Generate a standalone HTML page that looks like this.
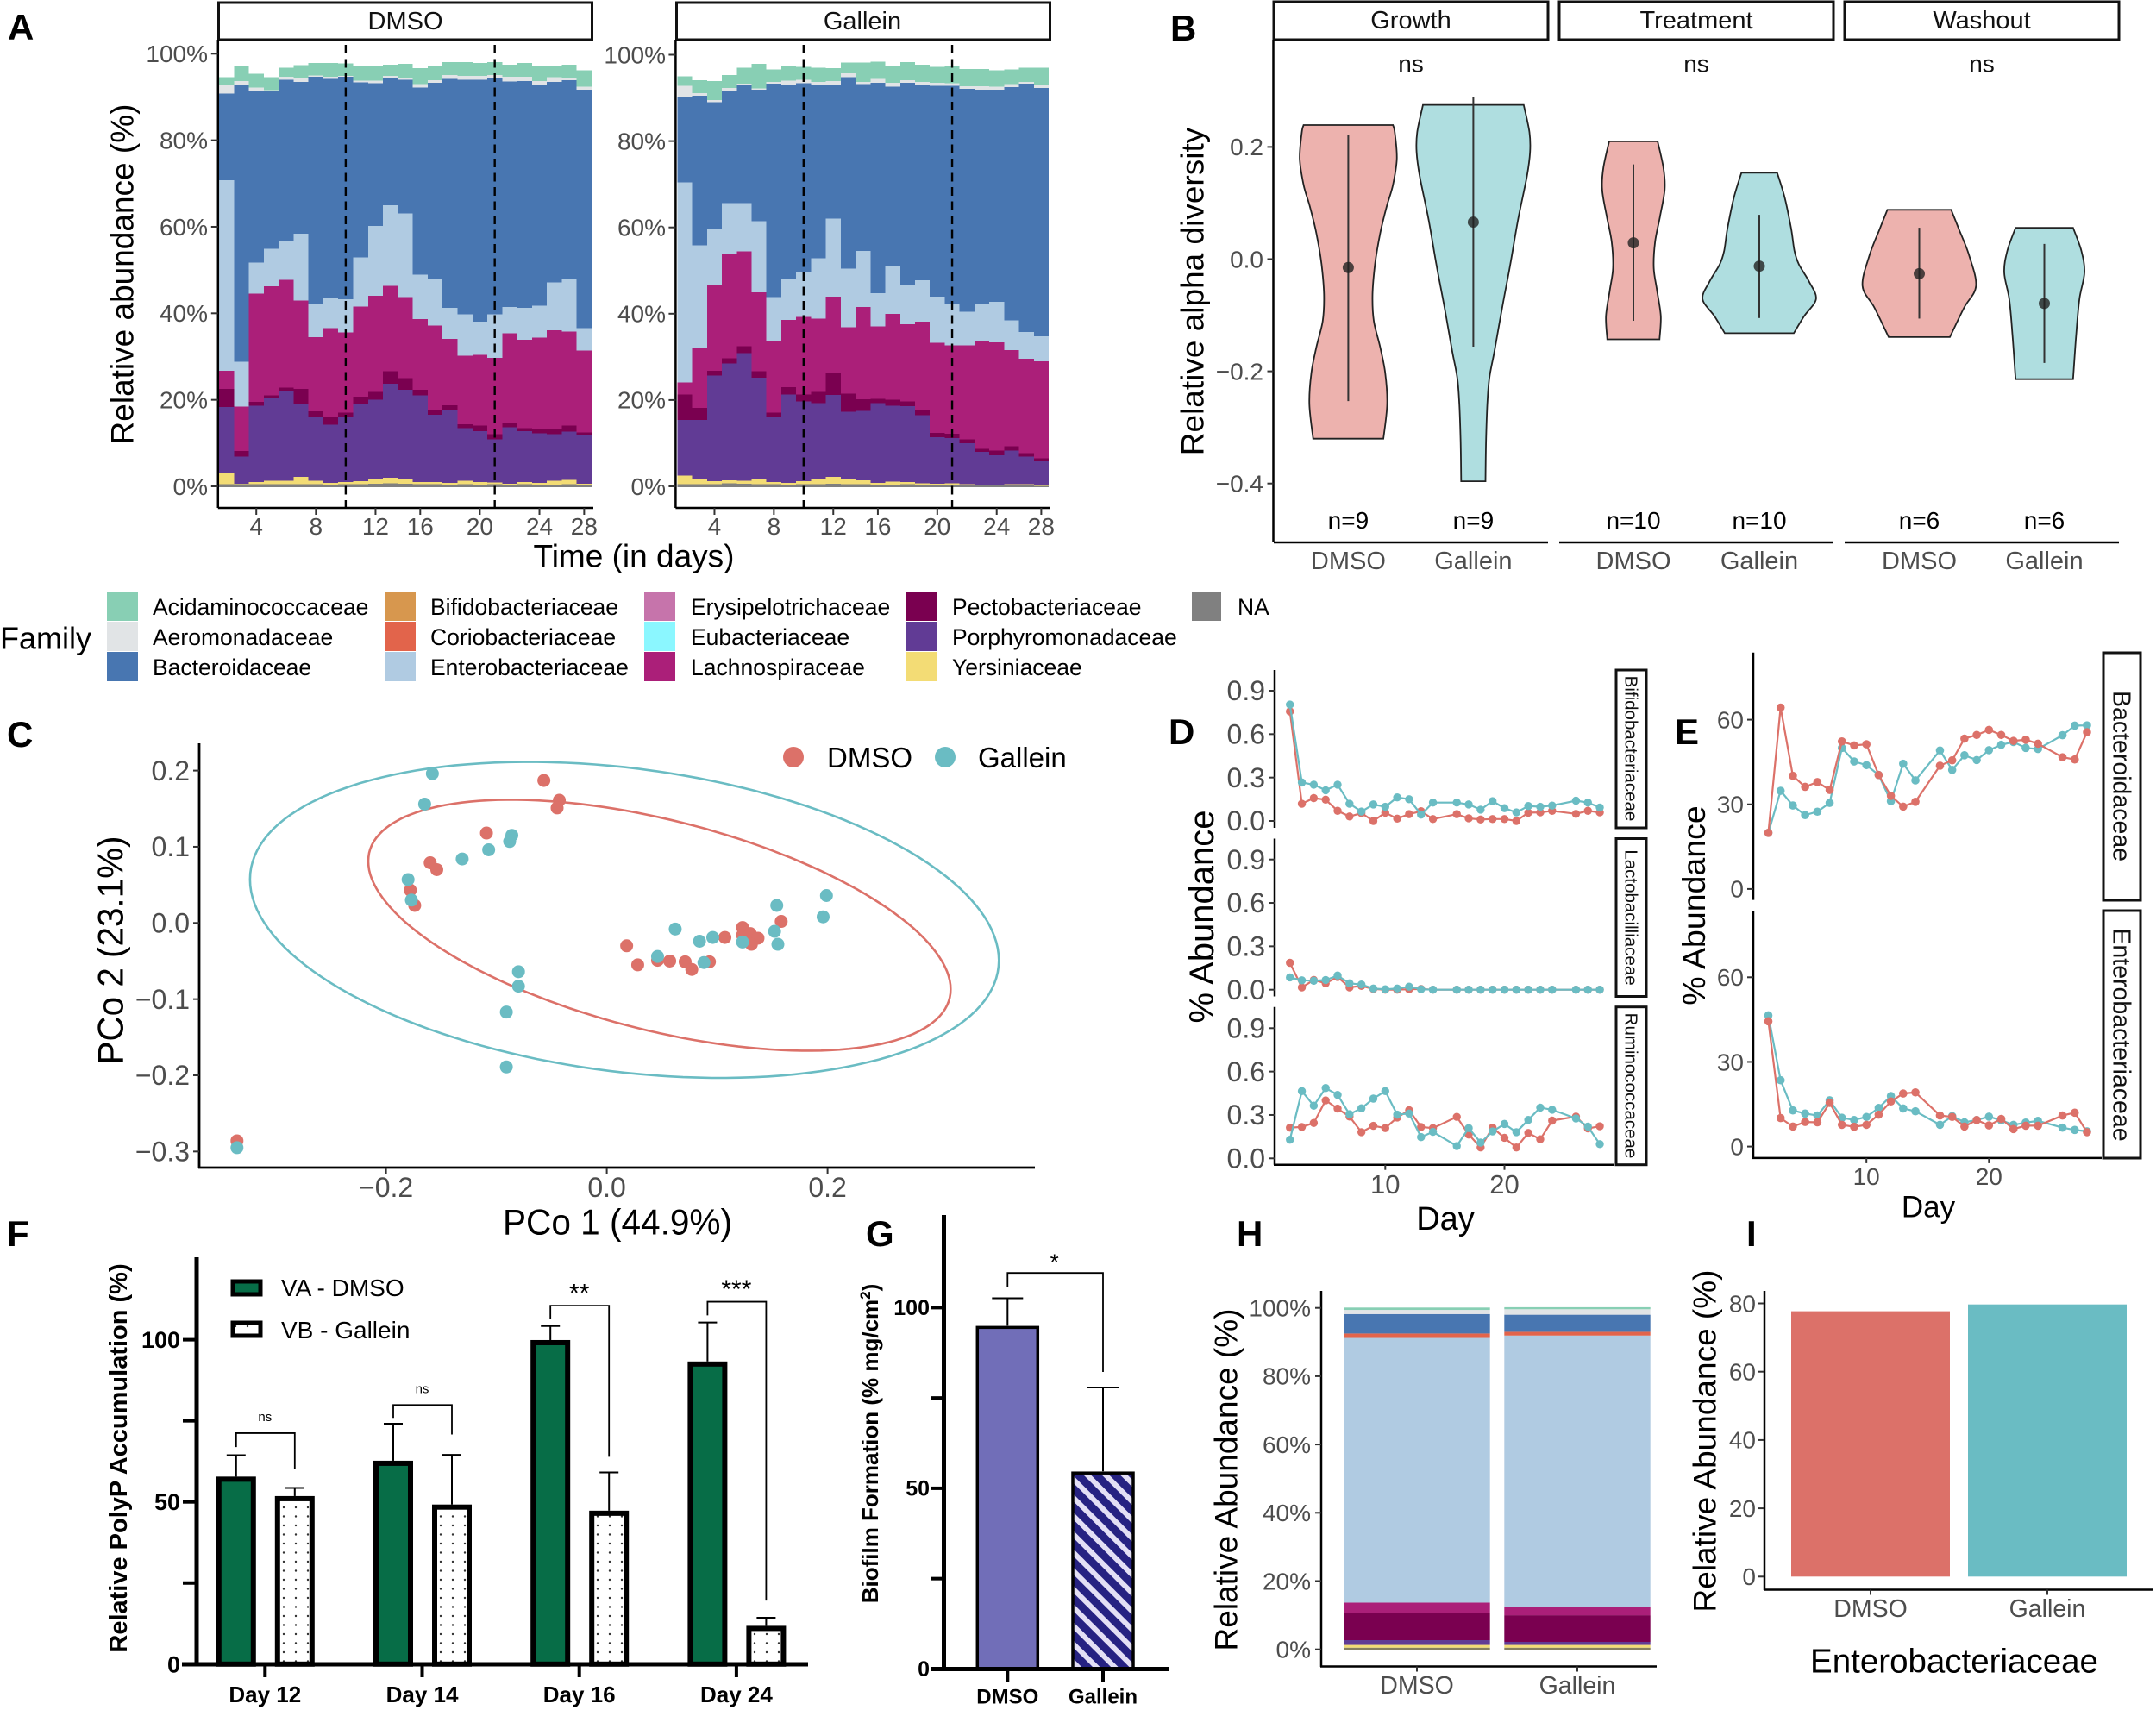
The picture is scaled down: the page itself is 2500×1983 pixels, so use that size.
<!DOCTYPE html>
<html lang="en">
<head>
<meta charset="utf-8">
<title>Microbiome composition figure</title>
<style>
html,body{margin:0;padding:0;background:#fff;}
svg{display:block;font-family:"Liberation Sans",sans-serif;}
.strip{fill:#fff;stroke:#111;stroke-width:3;}
.letter{font-size:42px;font-weight:bold;fill:#000;}
.title{fill:#000;text-anchor:middle;dominant-baseline:central;}
.strip-text{fill:#111;text-anchor:middle;dominant-baseline:central;}
.legend-text{font-size:26.5px;fill:#000;dominant-baseline:central;}
</style>
</head>
<body>
<svg id="figure" xmlns="http://www.w3.org/2000/svg" width="2500" height="1983" viewBox="0 0 2500 1983">
<defs>
<pattern id="dots" patternUnits="userSpaceOnUse" width="14" height="10.5"><rect width="14" height="10.5" fill="#fff"/><circle cx="7" cy="5" r="1.2" fill="#333"/></pattern>
<pattern id="stripes" patternUnits="userSpaceOnUse" width="15" height="15" patternTransform="rotate(-45)"><rect width="15" height="15" fill="#e3dff5"/><rect width="9" height="15" fill="#262282"/></pattern>
</defs>
<rect width="2500" height="1983" fill="#fff"/>

<g id="panel-a">
<text class="letter" x="9" y="46">A</text>
<rect class="strip" x="253.5" y="3" width="433" height="43"/>
<text class="strip-text" x="470" y="25" font-size="29">DMSO</text>
<rect class="strip" x="784.5" y="3" width="433" height="43"/>
<text class="strip-text" x="1000" y="25" font-size="29">Gallein</text>
<text class="title" font-size="37" transform="translate(142,318) rotate(-90)">Relative abundance (%)</text>
<text class="title" font-size="37" x="735" y="645">Time (in days)</text>
</g>

<g id="panel-b">
<text class="letter" x="1357" y="47">B</text>
<rect class="strip" x="1477" y="2" width="318" height="44"/>
<text class="strip-text" x="1636" y="24" font-size="29">Growth</text>
<rect class="strip" x="1808" y="2" width="318" height="44"/>
<text class="strip-text" x="1967" y="24" font-size="29">Treatment</text>
<rect class="strip" x="2139" y="2" width="318" height="44"/>
<text class="strip-text" x="2298" y="24" font-size="29">Washout</text>
<text class="title" font-size="37" transform="translate(1383,338) rotate(-90)">Relative alpha diversity</text>
<text class="strip-text" x="1636" y="74" font-size="28">ns</text>
<text class="strip-text" x="1967" y="74" font-size="28">ns</text>
<text class="strip-text" x="2298" y="74" font-size="28">ns</text>
</g>

<g id="legend-family">
<text class="title" font-size="36" x="53" y="740">Family</text>
<rect x="124" y="686" width="36" height="34" fill="#88cfb4"/>
<text class="legend-text" x="177" y="704">Acidaminococcaceae</text>
<rect x="124" y="721" width="36" height="34" fill="#e1e4e6"/>
<text class="legend-text" x="177" y="739">Aeromonadaceae</text>
<rect x="124" y="756" width="36" height="34" fill="#4876b1"/>
<text class="legend-text" x="177" y="774">Bacteroidaceae</text>
<rect x="446" y="686" width="36" height="34" fill="#d7974e"/>
<text class="legend-text" x="499" y="704">Bifidobacteriaceae</text>
<rect x="446" y="721" width="36" height="34" fill="#e2644b"/>
<text class="legend-text" x="499" y="739">Coriobacteriaceae</text>
<rect x="446" y="756" width="36" height="34" fill="#b0cbe2"/>
<text class="legend-text" x="499" y="774">Enterobacteriaceae</text>
<rect x="747" y="686" width="36" height="34" fill="#c674ab"/>
<text class="legend-text" x="801" y="704">Erysipelotrichaceae</text>
<rect x="747" y="721" width="36" height="34" fill="#8bf7ff"/>
<text class="legend-text" x="801" y="739">Eubacteriaceae</text>
<rect x="747" y="756" width="36" height="34" fill="#ab1f79"/>
<text class="legend-text" x="801" y="774">Lachnospiraceae</text>
<rect x="1050" y="686" width="36" height="34" fill="#7a0050"/>
<text class="legend-text" x="1104" y="704">Pectobacteriaceae</text>
<rect x="1050" y="721" width="36" height="34" fill="#613b95"/>
<text class="legend-text" x="1104" y="739">Porphyromonadaceae</text>
<rect x="1050" y="756" width="36" height="34" fill="#f3dc75"/>
<text class="legend-text" x="1104" y="774">Yersiniaceae</text>
<rect x="1382" y="686" width="34" height="34" fill="#808080"/>
<text class="legend-text" x="1435" y="704">NA</text>
</g>

<g id="panel-c">
<text class="letter" x="8" y="866">C</text>
<text class="title" font-size="42" transform="translate(128,1102) rotate(-90)" textLength="265" lengthAdjust="spacingAndGlyphs">PCo 2 (23.1%)</text>
<text class="title" font-size="42" x="716" y="1417" textLength="266" lengthAdjust="spacingAndGlyphs">PCo 1 (44.9%)</text>
<circle cx="920" cy="878" r="12" fill="#dc7169"/>
<text x="959" y="890" font-size="33" fill="#000">DMSO</text>
<circle cx="1096" cy="878" r="12" fill="#6abcc3"/>
<text x="1134" y="890" font-size="33" fill="#000">Gallein</text>
</g>

<g id="panel-d">
<text class="letter" x="1355" y="863">D</text>
<text class="title" font-size="40" transform="translate(1394,1063) rotate(-90)">% Abundance</text>
<text class="title" font-size="38" x="1676" y="1414">Day</text>
<rect class="strip" x="1874" y="777" width="35" height="183"/>
<text class="strip-text" font-size="20.5" transform="translate(1891,868) rotate(90)">Bifidobacteriaceae</text>
<rect class="strip" x="1874" y="972.5" width="35" height="183"/>
<text class="strip-text" font-size="20.5" transform="translate(1891,1064) rotate(90)">Lactobacilliaceae</text>
<rect class="strip" x="1874" y="1167.7" width="35" height="183"/>
<text class="strip-text" font-size="20.5" transform="translate(1891,1259) rotate(90)">Ruminococcaceae</text>
</g>

<g id="panel-e">
<text class="letter" x="1942" y="863">E</text>
<text class="title" font-size="37.5" transform="translate(1964,1050) rotate(-90)">% Abundance</text>
<text class="title" font-size="35" x="2236" y="1400">Day</text>
<rect class="strip" x="2439" y="757" width="43" height="287"/>
<text class="strip-text" font-size="28.5" transform="translate(2459.5,900) rotate(90)">Bacteroidaceae</text>
<rect class="strip" x="2439" y="1056" width="43" height="287"/>
<text class="strip-text" font-size="28.5" transform="translate(2459.5,1200) rotate(90)">Enterobacteriaceae</text>
</g>

<g id="panel-f">
<text class="letter" x="8" y="1445">F</text>
<text class="title" font-size="29" font-weight="bold" transform="translate(138,1691) rotate(-90)">Relative PolyP Accumulation (%)</text>
<rect x="270" y="1486" width="32" height="15" fill="#076d47" stroke="#000" stroke-width="5"/>
<text x="326" y="1503" font-size="28" fill="#000">VA - DMSO</text>
<rect x="270" y="1534" width="32" height="15" fill="url(#dots)" stroke="#000" stroke-width="5"/>
<text x="326" y="1552" font-size="28" fill="#000">VB - Gallein</text>
</g>

<g id="panel-g">
<text class="letter" x="1004" y="1445">G</text>
<text font-size="26" font-weight="bold" fill="#000" text-anchor="middle" transform="translate(1018,1674) rotate(-90)">Biofilm Formation (% mg/cm<tspan font-size="17" dy="-9">2</tspan><tspan dy="9">)</tspan></text>
</g>

<g id="panel-h">
<text class="letter" x="1434" y="1445">H</text>
<text class="title" font-size="37" transform="translate(1422,1716) rotate(-90)">Relative Abundance (%)</text>
</g>

<g id="panel-i">
<text class="letter" x="2025" y="1445">I</text>
<text class="title" font-size="37" transform="translate(1977,1671) rotate(-90)">Relative Abundance (%)</text>
<text class="title" font-size="38.5" x="2266" y="1927">Enterobacteriaceae</text>
</g>
</svg>

<script>
/* ---------- shared categories ---------- */
const days = [2,3,4,5,6,7,8,9,10,11,12,13,14,16,17,18,19,20,21,22,23,24,26,27,28];

/* ---------- panel A: cumulative top of each family (%) per day ---------- */
const aDayTicks = [4,8,12,16,20,24,28];
const aPercentTicks = [0,20,40,60,80,100];
const aTreatmentDays = [10,21];

const dmsoTopNA = [0.5,0.5,0.5,0.5,0.5,0.5,0.5,0.4,0.5,0.5,0.6,0.7,0.6,0.5,0.5,0.4,0.5,0.4,0.5,0.3,0.5,0.3,0.4,0.5,0.3];
const dmsoTopYersiniaceae = [3.0,0.55,1.0,1.25,1.25,2.2,1.25,0.75,1.0,1.2,1.65,2.0,1.7,1.0,1.0,0.75,1.25,1.0,0.9,0.6,1.0,0.75,1.25,1.45,0.55];
const dmsoTopPorphyromonadaceae = [18.3,6.9,18.6,20.4,21.9,18.9,16.1,14.3,15.9,18.9,20.0,23.7,22.3,21.0,16.5,17.6,13.5,12.8,10.9,13.7,12.8,12.3,12.1,12.7,12.0];
const dmsoTopPectobacteriaceae = [22.5,8.2,19.5,21.0,22.8,22.5,17.3,15.9,17.0,20.7,21.8,26.6,25.0,22.3,17.7,18.7,14.4,14.1,12.1,14.7,13.5,13.2,13.4,14.1,12.5];
const dmsoTopLachnospiraceae = [26.7,18.4,44.5,46.2,47.7,43.0,34.5,36.6,35.6,41.6,44.1,46.3,43.8,38.7,37.2,34.1,30.2,30.4,29.7,35.4,33.9,34.4,36.1,35.8,31.4];
const dmsoTopEnterobacteriaceae = [70.8,28.8,51.7,54.9,56.6,58.4,42.2,43.7,43.3,52.9,60.2,65.0,63.1,48.9,47.8,41.3,39.8,38.1,39.8,41.5,41.3,41.8,47.1,47.8,36.6];
const dmsoTopBacteroidaceae = [90.8,92.7,91.5,91.3,94.0,93.5,94.7,94.2,94.7,93.4,93.2,94.4,94.0,92.2,93.3,94.2,94.0,94.0,94.5,93.6,93.7,92.9,93.5,93.9,91.7];
const dmsoTopAeromonadaceae = [92.7,93.7,92.2,91.6,94.7,94.5,95.0,94.7,94.9,93.8,93.8,94.9,94.5,93.0,93.9,95.1,94.9,94.9,95.1,94.7,94.7,93.7,94.6,94.3,92.4];
const dmsoTopAcidaminococcaceae = [94.6,97.1,95.4,94.6,96.8,97.4,97.9,97.9,97.8,97.1,97.1,97.5,97.7,96.7,97.1,98.1,98.1,97.9,98.1,97.5,97.9,97.1,97.2,97.5,96.2];

const galleinTopNA = [0.5,0.5,0.5,0.7,0.6,0.5,0.5,0.4,0.5,0.5,0.6,0.5,0.5,0.4,0.4,0.5,0.3,0.3,0.3,0.2,0.2,0.2,0.4,0.2,0.1];
const galleinTopYersiniaceae = [2.5,1.6,1.2,1.4,1.3,1.6,1.0,0.8,1.2,1.7,2.2,1.6,1.4,0.75,1.1,1.0,0.7,0.55,0.7,0.5,0.4,0.4,0.5,0.5,0.3];
const galleinTopPorphyromonadaceae = [15.4,15.4,25.7,28.5,30.9,25.2,16.2,21.3,19.7,19.3,21.2,17.3,17.5,19.3,18.7,18.6,16.5,11.4,11.2,10.0,8.0,7.2,8.3,6.9,5.8];
const galleinTopPectobacteriaceae = [21.3,18.2,26.8,29.7,32.5,26.7,17.1,23.0,21.3,21.9,26.3,21.5,20.2,20.3,20.1,19.7,17.6,12.4,12.2,10.9,8.7,8.3,9.3,7.7,6.5];
const galleinTopLachnospiraceae = [24.1,32.0,46.7,53.9,54.4,45.0,33.6,38.6,39.3,38.9,44.0,36.9,41.6,37.1,40.0,37.6,38.2,33.3,32.7,32.7,33.8,33.4,31.6,29.6,29.0];
const galleinTopEnterobacteriaceae = [70.4,55.8,59.6,65.6,65.6,61.4,43.9,48.2,49.7,52.8,62.0,50.4,54.5,44.8,50.9,46.6,47.8,44.0,42.2,40.5,42.4,42.8,38.5,35.8,34.8];
const galleinTopBacteroidaceae = [90.2,90.5,89.0,91.7,93.1,91.9,93.3,93.1,93.4,93.1,93.1,94.8,93.2,93.5,92.6,93.5,93.1,92.8,92.8,92.1,91.9,91.9,92.5,93.3,92.3];
const galleinTopAeromonadaceae = [92.8,91.1,89.5,92.3,93.3,92.2,93.7,94.0,94.2,93.7,93.9,95.7,93.7,94.4,93.5,94.1,93.7,93.5,93.4,92.7,92.7,92.6,93.2,93.7,92.9];
const galleinTopAcidaminococcaceae = [95.0,94.1,93.9,95.3,97.0,97.9,96.6,97.4,97.2,97.0,96.9,98.2,98.2,98.4,97.5,98.3,97.7,97.2,97.4,96.7,96.7,96.4,96.6,97.0,97.0];

/* ---------- panel B: violin density profiles ---------- */
const bTicks = [-0.4,-0.2,0,0.2];
const bGroups = ['DMSO','Gallein','DMSO','Gallein','DMSO','Gallein'];
const bCounts = ['n=9','n=9','n=10','n=10','n=6','n=6'];
const growthDmsoLevels = [0.239,0.226,0.179,0.132,0.093,0.046,-0.009,-0.063,-0.110,-0.157,-0.204,-0.259,-0.320];
const growthDmsoDensity = [0.357,0.372,0.388,0.357,0.306,0.255,0.214,0.194,0.204,0.255,0.296,0.311,0.281];
const growthGalleinLevels = [0.275,0.226,0.191,0.148,0.070,-0.009,-0.087,-0.165,-0.212,-0.259,-0.321,-0.396];
const growthGalleinDensity = [0.403,0.449,0.454,0.429,0.357,0.296,0.230,0.168,0.128,0.112,0.102,0.097];
const treatmentDmsoLevels = [0.210,0.163,0.124,0.077,0.030,-0.016,-0.056,-0.102,-0.143];
const treatmentDmsoDensity = [0.194,0.240,0.250,0.214,0.173,0.163,0.189,0.219,0.209];
const treatmentGalleinLevels = [0.154,0.109,0.054,0.015,-0.009,-0.040,-0.071,-0.102,-0.132];
const treatmentGalleinDensity = [0.143,0.204,0.255,0.281,0.316,0.398,0.454,0.357,0.276];
const washoutDmsoLevels = [0.088,0.054,0.007,-0.048,-0.087,-0.139];
const washoutDmsoDensity = [0.255,0.316,0.398,0.454,0.357,0.245];
const washoutGalleinLevels = [0.056,0.015,-0.024,-0.071,-0.134,-0.214];
const washoutGalleinDensity = [0.230,0.296,0.321,0.281,0.255,0.230];
const bMeans = [-0.015,0.066,0.029,-0.0125,-0.026,-0.079];
const bLows = [-0.253,-0.156,-0.110,-0.105,-0.106,-0.185];
const bHighs = [0.222,0.289,0.169,0.079,0.056,0.027];

/* ---------- panel C: ordination ---------- */
const cXTicks = [-0.2,0,0.2];
const cYTicks = [-0.3,-0.2,-0.1,0,0.1,0.2];
const dmsoPco1 = [-0.057,-0.043,-0.045,-0.109,-0.160,-0.154,-0.178,-0.174,-0.335,0.018,0.028,0.046,0.057,0.071,0.077,0.093,0.107,0.123,0.123,0.130,0.137,0.131,0.158];
const dmsoPco2 = [0.187,0.161,0.151,0.118,0.079,0.070,0.043,0.023,-0.286,-0.030,-0.055,-0.049,-0.050,-0.051,-0.061,-0.051,-0.019,-0.006,-0.016,-0.014,-0.020,-0.028,0.002];
const galleinPco1 = [-0.158,-0.165,-0.086,-0.088,-0.107,-0.131,-0.180,-0.177,-0.080,-0.080,-0.091,-0.091,-0.335,0.046,0.062,0.084,0.096,0.088,0.123,0.152,0.155,0.154,0.196,0.199];
const galleinPco2 = [0.196,0.156,0.115,0.107,0.096,0.084,0.057,0.030,-0.064,-0.083,-0.117,-0.189,-0.295,-0.044,-0.008,-0.024,-0.019,-0.052,-0.025,-0.011,-0.028,0.023,0.008,0.036];
/* centre x, centre y, sd x, sd y, correlation */
const dmsoEllipse = [0.0477,-0.003,0.2638,0.1647,-0.51];
const galleinEllipse = [0.016,0.004,0.3392,0.2074,-0.256];

/* ---------- panel D ---------- */
const dYTicks = [0,0.3,0.6,0.9];
const dXTicks = [10,20];
const bifidoDmso = [0.757,0.119,0.158,0.147,0.07,0.031,0.054,0,0.057,0.016,0.047,0.067,0.013,0.047,0.018,0.01,0.013,0.013,0,0.057,0.059,0.07,0.049,0.07,0.059];
const bifidoGallein = [0.804,0.266,0.251,0.212,0.251,0.119,0.065,0.114,0.098,0.163,0.15,0.044,0.127,0.127,0.114,0.078,0.137,0.088,0.059,0.103,0.098,0.106,0.14,0.127,0.093];
const lactoDmso = [0.186,0.016,0.067,0.044,0.088,0.016,0.026,0.005,0,0,0.003,0.005,0,0,0,0,0,0,0,0,0,0,0,0,0];
const lactoGallein = [0.085,0.065,0.062,0.067,0.098,0.044,0.036,0.008,0.003,0.008,0.021,0.003,0,0,0,0,0,0,0,0,0,0,0,0,0];
const ruminoDmso = [0.212,0.217,0.245,0.401,0.344,0.289,0.181,0.225,0.209,0.282,0.333,0.217,0.209,0.287,0.165,0.075,0.212,0.142,0.075,0.176,0.132,0.261,0.289,0.207,0.222];
const ruminoGallein = [0.129,0.465,0.364,0.486,0.439,0.305,0.346,0.413,0.465,0.302,0.31,0.147,0.183,0.085,0.209,0.109,0.186,0.238,0.181,0.266,0.351,0.336,0.276,0.22,0.098];

/* ---------- panel E ---------- */
const eYTicks = [0,30,60];
const eXTicks = [10,20];
const bacteroDmso = [19.9,64.3,40.1,36.2,37.9,35.1,52.3,50.9,51.3,40.4,33,29.2,30.9,43.7,45.6,53.3,54.6,56.4,54.6,52.5,52.9,51.5,46.7,45.9,55.6];
const bacteroGallein = [19.9,34.8,29.6,26.2,27.4,30.5,50,45.2,43.9,40.4,31.1,44.4,38.5,49.1,42.2,47.4,45.7,49.2,51.1,52.1,50,49.6,54.5,57.9,58];
const enteroDmso = [44.4,10.1,7.1,8.7,8.6,15.5,7.7,7,7.7,11.3,16,18.8,19.2,11,10.5,7.1,9.4,7.5,9.8,6.2,7.4,7.4,11,12,5.1];
const enteroGallein = [46.5,23.5,12.8,11.7,11,16.4,10.2,9.4,10.5,13.7,17.9,13.5,12.5,7.7,10.8,8.6,9.4,10.6,9.3,7.7,8.5,9.1,6.7,5.9,5.4];

/* ---------- panel F ---------- */
const fDays = ['Day 12','Day 14','Day 16','Day 24'];
const fYTicks = [0,25,50,75,100];
const fDmso = [57.8,62.7,99.9,93.3];
const fDmsoErrTop = [64.4,74.1,104.2,105.3];
const fGallein = [51.8,49.2,47.3,11.8];
const fGalleinErrTop = [54.3,64.5,59.1,14.3];
const fSignificance = ['ns','ns','**','***'];
const fBracketTop = [71.2,79.9,110.5,111.7];
const fBracketLeftEnd = [66.9,75.9,106.3,107.5];
const fBracketRightEnd = [60.2,70.8,63.9,19.6];

/* ---------- panel G ---------- */
const gGroups = ['DMSO','Gallein'];
const gYTicks = [0,25,50,75,100];
const gValues = [95,54.7];
const gErrTop = [102.6,77.9];
const gBracketTop = 109.6;
const gBracketEnds = [105.6,82.2];

/* ---------- panel H: cumulative tops, NA up to Acidaminococcaceae ---------- */
const hGroups = ['DMSO','Gallein'];
const hTicks = [0,20,40,60,80,100];
const hDmsoTops = [0.5,1.3,2.7,10.7,13.7,91.2,92.5,98.2,99.4,100.1];
const hGalleinTops = [0.5,1.3,2.2,10.0,12.5,91.9,93.0,98.0,99.6,100.2];

/* ---------- panel I ---------- */
const iGroups = ['DMSO','Gallein'];
const iTicks = [0,20,40,60,80];
const iValues = [77.7,79.7];

/* ---------- helpers ---------- */
const NS = 'http://www.w3.org/2000/svg';
const INK = '#4d4d4d', RED = '#dc7169', TEAL = '#6abcc3';
function mk(tag, attrs, parent) {
  const el = document.createElementNS(NS, tag);
  for (const k in attrs) el.setAttribute(k, attrs[k]);
  parent.appendChild(el);
  return el;
}
function lin(d0, d1, r0, r1) { return v => r0 + (v - d0) * (r1 - r0) / (d1 - d0); }
function put(parent, x, y, str, fs, anchor, fill, bold) {
  const el = mk('text', {x: x, y: y + fs * 0.35, 'font-size': fs, 'text-anchor': anchor, fill: fill, 'font-weight': bold ? 'bold' : 'normal'}, parent);
  el.textContent = str;
  return el;
}
function leftAxis(parent, o) {
  const ax = mk('line', {x1: o.x, x2: o.x, y1: o.top, y2: o.bottom, stroke: '#000', 'stroke-width': o.sw}, parent);
  
  
  o.ticks.forEach(t => {
    const y = o.scale(t);
    const tick = mk('line', {x1: o.x - o.len, x2: o.x, y1: y, y2: y, stroke: o.tickColor || '#333', 'stroke-width': o.tsw}, parent);
    
    
    const s = o.fmt(t);
    if (s !== '') {
      const lab = put(parent, o.labelX, y, s, o.fs, 'end', o.fill || INK, o.bold);
      
      
    }
  });
}
function bottomAxis(parent, o) {
  const ax = mk('line', {x1: o.left, x2: o.right, y1: o.y, y2: o.y, stroke: '#000', 'stroke-width': o.sw}, parent);
  
  
  o.ticks.forEach((t, i) => {
    const x = o.scale(t, i);
    const tick = mk('line', {x1: x, x2: x, y1: o.y, y2: o.y + o.len, stroke: o.tickColor || '#333', 'stroke-width': o.tsw}, parent);
    
    
    const lab = put(parent, x, o.labelY, o.fmt(t), o.fs, 'middle', o.fill || INK, o.bold);
    
    
  });
}
const fmtMinus1 = v => (v < 0 ? '\u2212' : '') + Math.abs(v).toFixed(1);
const fmtPct = v => v + '%';
const fmtPlain = v => String(v);

/* ---------- panel A ---------- */
const gA = document.getElementById('panel-a');
const familyColors = ['#808080','#f3dc75','#613b95','#7a0050','#ab1f79','#b0cbe2','#4876b1','#e1e4e6','#88cfb4'];
const dmsoTops = [dmsoTopNA,dmsoTopYersiniaceae,dmsoTopPorphyromonadaceae,dmsoTopPectobacteriaceae,dmsoTopLachnospiraceae,dmsoTopEnterobacteriaceae,dmsoTopBacteroidaceae,dmsoTopAeromonadaceae,dmsoTopAcidaminococcaceae];
const galleinTops = [galleinTopNA,galleinTopYersiniaceae,galleinTopPorphyromonadaceae,galleinTopPectobacteriaceae,galleinTopLachnospiraceae,galleinTopEnterobacteriaceae,galleinTopBacteroidaceae,galleinTopAeromonadaceae,galleinTopAcidaminococcaceae];
function stackPanel(tops, left, right, axisX, yScale, labelX) {
  const bw = (right - left) / days.length;
  const xBand = d => left + days.indexOf(d) * bw;
  tops.forEach((layer, k) => {
    layer.forEach((top, i) => {
      const base = k === 0 ? -0.2 : tops[k - 1][i];
      const yTop = yScale(top), yBase = yScale(base);
      const seg = mk('rect', {x: xBand(days[i]), y: yTop, width: bw, height: Math.max(0, yBase - yTop), fill: familyColors[k], 'shape-rendering': 'crispEdges'}, gA);
      
      
    });
  });
  aTreatmentDays.forEach(d => {
    const x = xBand(d) + bw / 2;
    const dash = mk('line', {x1: x, x2: x, y1: 52, y2: 589, stroke: '#000', 'stroke-width': 2.4, 'stroke-dasharray': '10 6.5'}, gA);
    
    
  });
  leftAxis(gA, {x: axisX, top: 46, bottom: 589, ticks: aPercentTicks, scale: yScale, fmt: fmtPct, fs: 28, len: 8, sw: 2.5, tsw: 2, labelX: labelX});
  bottomAxis(gA, {y: 589, left: axisX, right: right + 2, ticks: aDayTicks, scale: d => xBand(d) + bw / 2, fmt: fmtPlain, fs: 28, len: 8, sw: 2.5, tsw: 2, labelY: 610});
}
stackPanel(dmsoTops, 254, 686, 252.8, lin(0, 100, 564, 62.3), 241);
stackPanel(galleinTops, 785.4, 1216, 783.4, lin(0, 100, 564, 63.5), 772);

/* ---------- panel B ---------- */
const gB = document.getElementById('panel-b');
const yB = lin(0, 0.2, 300.5, 170.4);
const xB = [1563.4, 1708.4, 1894, 2040, 2225.5, 2370.5];
const unitB = 145;
const bProfiles = [
  [growthDmsoLevels, growthDmsoDensity], [growthGalleinLevels, growthGalleinDensity],
  [treatmentDmsoLevels, treatmentDmsoDensity], [treatmentGalleinLevels, treatmentGalleinDensity],
  [washoutDmsoLevels, washoutDmsoDensity], [washoutGalleinLevels, washoutGalleinDensity]
];
function smoothSegs(pts) {
  let d = '';
  for (let i = 0; i < pts.length - 1; i++) {
    const p0 = pts[Math.max(0, i - 1)], p1 = pts[i], p2 = pts[i + 1], p3 = pts[Math.min(pts.length - 1, i + 2)];
    d += ' C' + (p1[0] + (p2[0] - p0[0]) / 6).toFixed(1) + ' ' + (p1[1] + (p2[1] - p0[1]) / 6).toFixed(1) + ' ' +
      (p2[0] - (p3[0] - p1[0]) / 6).toFixed(1) + ' ' + (p2[1] - (p3[1] - p1[1]) / 6).toFixed(1) + ' ' +
      p2[0].toFixed(1) + ' ' + p2[1].toFixed(1);
  }
  return d;
}
bProfiles.forEach((prof, i) => {
  const cx = xB[i];
  const right = prof[0].map((v, j) => [cx + prof[1][j] * unitB, yB(v)]);
  const left = prof[0].map((v, j) => [cx - prof[1][j] * unitB, yB(v)]).reverse();
  const d = 'M' + right[0][0].toFixed(1) + ' ' + right[0][1].toFixed(1) + smoothSegs(right) + ' L' + left[0][0].toFixed(1) + ' ' + left[0][1].toFixed(1) + smoothSegs(left) + ' Z';
  const v = mk('path', {d: d, fill: i % 2 ? '#afdee0' : '#edb2ae', stroke: '#222', 'stroke-width': 1.8}, gB);
  
  
  const rng = mk('line', {x1: cx, x2: cx, y1: yB(bHighs[i]), y2: yB(bLows[i]), stroke: '#333', 'stroke-width': 2}, gB);
  
  
  const pt = mk('circle', {cx: cx, cy: yB(bMeans[i]), r: 6.5, fill: '#222', 'fill-opacity': 0.8}, gB);
  
  
  const nl = put(gB, cx, 603, bCounts[i], 28, 'middle', '#000');
  
  
});
leftAxis(gB, {x: 1476.5, top: 46, bottom: 629, ticks: bTicks, scale: yB, fmt: fmtMinus1, fs: 28, len: 7, sw: 2.5, tsw: 2, labelX: 1465});
[[1477, 1795, 0], [1808, 2126, 2], [2139, 2457, 4]].forEach(seg => {
  bottomAxis(gB, {y: 629, left: seg[0], right: seg[1], ticks: [bGroups[seg[2]], bGroups[seg[2] + 1]], scale: (t, i) => xB[seg[2] + i], fmt: fmtPlain, fs: 29, len: 0, sw: 2.5, tsw: 0, labelY: 650});
});

/* ---------- panel C ---------- */
const gC = document.getElementById('panel-c');
const xC = lin(0, 0.2, 703.6, 959.6);
const yC = lin(0, 0.2, 1070.3, 893.6);
function ellipsePath(p) {
  const phase = Math.acos(p[4]);
  let d = '';
  for (let k = 0; k <= 160; k++) {
    const t = k / 160 * 2 * Math.PI;
    const x = xC(p[0] + p[2] * Math.cos(t));
    const y = yC(p[1] + p[3] * Math.cos(t + phase));
    d += (k ? 'L' : 'M') + x.toFixed(1) + ' ' + y.toFixed(1) + ' ';
  }
  return d + 'Z';
}
const ellG = mk('path', {d: ellipsePath(galleinEllipse), fill: 'none', stroke: TEAL, 'stroke-width': 2.6}, gC);


const ellD = mk('path', {d: ellipsePath(dmsoEllipse), fill: 'none', stroke: RED, 'stroke-width': 2.6}, gC);


dmsoPco1.forEach((v, i) => {
  const c = mk('circle', {cx: xC(v), cy: yC(dmsoPco2[i]), r: 7.5, fill: RED}, gC);
  
  
});
galleinPco1.forEach((v, i) => {
  const c = mk('circle', {cx: xC(v), cy: yC(galleinPco2[i]), r: 7.5, fill: TEAL}, gC);
  
  
});
leftAxis(gC, {x: 231, top: 862, bottom: 1354, ticks: cYTicks, scale: yC, fmt: fmtMinus1, fs: 32, len: 7, sw: 2.8, tsw: 2, labelX: 220});
bottomAxis(gC, {y: 1354, left: 230, right: 1200, ticks: cXTicks, scale: v => xC(v), fmt: fmtMinus1, fs: 32, len: 7, sw: 2.8, tsw: 2, labelY: 1377});

/* ---------- line facets, panels D and E ---------- */
function lineSeries(parent, xS, yS, values, color, sw, r) {
  const pts = values.map((v, i) => xS(days[i]).toFixed(1) + ',' + yS(v).toFixed(1)).join(' ');
  const pl = mk('polyline', {points: pts, fill: 'none', stroke: color, 'stroke-width': sw}, parent);
  
  
  values.forEach((v, i) => {
    const c = mk('circle', {cx: xS(days[i]), cy: yS(v), r: r, fill: color}, parent);
    
    
  });
}
const gD = document.getElementById('panel-d');
const xD = lin(10, 20, 1606.3, 1744.5);
[[bifidoDmso, bifidoGallein, 952, 777, 960], [lactoDmso, lactoGallein, 1147.7, 972.5, 1155.5], [ruminoDmso, ruminoGallein, 1343.3, 1167.7, 1350.7]].forEach(f => {
  const yS = lin(0, 0.9, f[2], f[2] - 151);
  lineSeries(gD, xD, yS, f[0], RED, 2.2, 4.7);
  lineSeries(gD, xD, yS, f[1], TEAL, 2.2, 4.7);
  leftAxis(gD, {x: 1478, top: f[3], bottom: f[4], ticks: dYTicks, scale: yS, fmt: v => v.toFixed(1), fs: 32, len: 7, sw: 2.5, tsw: 2, labelX: 1467});
});
bottomAxis(gD, {y: 1350.7, left: 1477, right: 1872, ticks: dXTicks, scale: xD, fmt: fmtPlain, fs: 31, len: 6, sw: 2.5, tsw: 2, labelY: 1373});

const gE = document.getElementById('panel-e');
const xE = lin(10, 20, 2164.2, 2306.3);
[[bacteroDmso, bacteroGallein, 1030.9, 756.7, 1043.6], [enteroDmso, enteroGallein, 1329.6, 1056, 1342.9]].forEach(f => {
  const yS = lin(0, 60, f[2], f[2] - 196.3);
  lineSeries(gE, xE, yS, f[1], TEAL, 2.2, 4.8);
  lineSeries(gE, xE, yS, f[0], RED, 2.2, 4.8);
  leftAxis(gE, {x: 2033, top: f[3], bottom: f[4], ticks: eYTicks, scale: yS, fmt: fmtPlain, fs: 28, len: 7, sw: 2.5, tsw: 2, labelX: 2022});
});
bottomAxis(gE, {y: 1342.9, left: 2032, right: 2437, ticks: eXTicks, scale: xE, fmt: fmtPlain, fs: 28, len: 6, sw: 2.5, tsw: 2, labelY: 1364});

/* ---------- panel F ---------- */
const gF = document.getElementById('panel-f');
const yF = lin(0, 100, 1929.8, 1553.6);
const xF = (i) => 307.3 + i * 182.2;
function capError(parent, x, yFrom, yTo, cap, sw) {
  const stem = mk('line', {x1: x, x2: x, y1: yFrom, y2: yTo, stroke: '#000', 'stroke-width': sw}, parent);
  
  
  const top = mk('line', {x1: x - cap, x2: x + cap, y1: yTo, y2: yTo, stroke: '#000', 'stroke-width': sw}, parent);
  
  
}
function bracket(parent, xL, xR, yTop, yLeft, yRight) {
  const p = mk('polyline', {points: xL + ',' + yLeft + ' ' + xL + ',' + yTop + ' ' + xR + ',' + yTop + ' ' + xR + ',' + yRight, fill: 'none', stroke: '#000', 'stroke-width': 1.8}, parent);
  
  
}
fDays.forEach((d, i) => {
  const cL = xF(i) - 33.5, cR = xF(i) + 34.5;
  const b1 = mk('rect', {x: cL - 20, y: yF(fDmso[i]) + 3, width: 40, height: yF(0) - yF(fDmso[i]) - 3, fill: '#076d47', stroke: '#000', 'stroke-width': 6}, gF);
  
  
  capError(gF, cL, yF(fDmso[i]), yF(fDmsoErrTop[i]), 11, 2);
  const b2 = mk('rect', {x: cR - 20, y: yF(fGallein[i]) + 3, width: 40, height: yF(0) - yF(fGallein[i]) - 3, fill: 'url(#dots)', stroke: '#000', 'stroke-width': 6}, gF);
  
  
  capError(gF, cR, yF(fGallein[i]), yF(fGalleinErrTop[i]), 11, 2);
  bracket(gF, cL, cR, yF(fBracketTop[i]), yF(fBracketLeftEnd[i]), yF(fBracketRightEnd[i]));
  const isNs = fSignificance[i] === 'ns';
  const sig = put(gF, xF(i), yF(fBracketTop[i]) + (isNs ? -19 : -15), fSignificance[i], isNs ? 15 : 30, 'middle', '#000');
  
  
});
leftAxis(gF, {x: 228, top: 1458, bottom: 1932, ticks: fYTicks, scale: yF, fmt: v => v % 50 ? '' : String(v), fs: 27, len: 16, sw: 5, tsw: 4, tickColor: '#000', labelX: 209, fill: '#000', bold: true});
bottomAxis(gF, {y: 1930, left: 211, right: 937, ticks: fDays, scale: (t, i) => xF(i), fmt: fmtPlain, fs: 26, len: 15, sw: 5, tsw: 4, tickColor: '#000', labelY: 1965, fill: '#000', bold: true});

/* ---------- panel G ---------- */
const gG = document.getElementById('panel-g');
const yG = lin(0, 100, 1935.4, 1516.4);
const xG = [1168.3, 1279];
const gFills = ['#716eb8', 'url(#stripes)'];
gValues.forEach((v, i) => {
  const b = mk('rect', {x: xG[i] - 35, y: yG(v) + 2, width: 70, height: yG(0) - yG(v) - 2, fill: gFills[i], stroke: '#000', 'stroke-width': 3.5}, gG);
  
  
  capError(gG, xG[i], yG(v), yG(gErrTop[i]), 18, 2);
});
bracket(gG, xG[0], xG[1], yG(gBracketTop), yG(gBracketEnds[0]), yG(gBracketEnds[1]));
const gStar = put(gG, (xG[0] + xG[1]) / 2 - 1, yG(gBracketTop) - 13, '*', 26, 'middle', '#000');


leftAxis(gG, {x: 1094.5, top: 1409, bottom: 1937, ticks: gYTicks, scale: yG, fmt: v => v % 50 ? '' : String(v), fs: 25, len: 15, sw: 5, tsw: 4, tickColor: '#000', labelX: 1078, fill: '#000', bold: true});
bottomAxis(gG, {y: 1935.5, left: 1080, right: 1355, ticks: gGroups, scale: (t, i) => xG[i], fmt: fmtPlain, fs: 24, len: 15, sw: 5, tsw: 4, tickColor: '#000', labelY: 1967, fill: '#000', bold: true});

/* ---------- panel H ---------- */
const gH = document.getElementById('panel-h');
const yH = lin(0, 100, 1912.7, 1516.7);
const xH = [1643, 1829];
const hColors = ['#857f5f','#f3dc75','#613b95','#7a0050','#ab1f79','#b0cbe2','#e2644b','#4876b1','#e1e4e6','#88cfb4'];
[hDmsoTops, hGalleinTops].forEach((tops, b) => {
  tops.forEach((top, k) => {
    const base = k === 0 ? -0.1 : tops[k - 1];
    const seg = mk('rect', {x: xH[b] - 84.7, y: yH(top), width: 169.4, height: yH(base) - yH(top), fill: hColors[k]}, gH);
    
    
  });
});
leftAxis(gH, {x: 1532, top: 1497, bottom: 1933, ticks: hTicks, scale: yH, fmt: fmtPct, fs: 28, len: 7, sw: 2.5, tsw: 2, labelX: 1520});
bottomAxis(gH, {y: 1932.5, left: 1531, right: 1921, ticks: hGroups, scale: (t, i) => xH[i], fmt: fmtPlain, fs: 28.5, len: 6, sw: 2.5, tsw: 2, labelY: 1954});

/* ---------- panel I ---------- */
const gI = document.getElementById('panel-i');
const yI = lin(0, 80, 1828.3, 1511.5);
const xI = [2169, 2374];
const iFills = [RED, TEAL];
iValues.forEach((v, i) => {
  const b = mk('rect', {x: xI[i] - 92, y: yI(v), width: 184, height: yI(0) - yI(v), fill: iFills[i]}, gI);
  
  
});
leftAxis(gI, {x: 2046, top: 1497, bottom: 1844, ticks: iTicks, scale: yI, fmt: fmtPlain, fs: 28, len: 7, sw: 2.5, tsw: 2, labelX: 2036});
bottomAxis(gI, {y: 1843.5, left: 2045, right: 2497, ticks: iGroups, scale: (t, i) => xI[i], fmt: fmtPlain, fs: 28.5, len: 6, sw: 2.5, tsw: 2, labelY: 1865});
</script>
</body>
</html>
